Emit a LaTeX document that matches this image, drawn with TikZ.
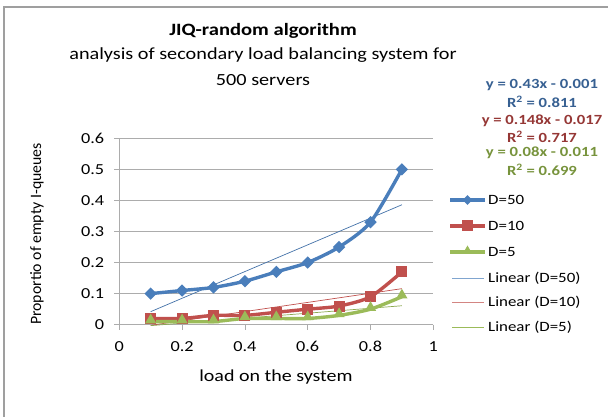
\documentclass[tikz,border=0pt]{standalone}
\usepackage{fontspec}
\setmainfont{Carlito}[FakeStretch=1.19]
\newfontfamily\uprightlbl{Carlito}
\usetikzlibrary{shapes.geometric}
\definecolor{serblue}{RGB}{74,126,187}
\definecolor{serred}{RGB}{192,80,77}
\definecolor{sergreen}{RGB}{155,187,89}
\definecolor{eqblue}{RGB}{55,96,146}
\definecolor{eqred}{RGB}{149,55,53}
\definecolor{eqgreen}{RGB}{119,147,60}
\tikzset{gridln/.style={draw=gray!65, line width=0.8pt}}
\tikzset{serline/.style={line width=3.4pt, smooth, tension=0.45, line join=round}}
\tikzset{trend/.style={line width=0.7pt}}
\tikzset{mkdia/.style={diamond, fill=serblue, inner sep=0pt, minimum size=12.5pt}}
\tikzset{mksq/.style={rectangle, fill=serred, inner sep=0pt, minimum size=11pt}}
\tikzset{mktri/.style={regular polygon, regular polygon sides=3, fill=sergreen, inner sep=0pt, minimum size=13pt}}
\tikzset{lbl/.style={font=\fontsize{15.3}{17}\selectfont, inner sep=1pt}}
\tikzset{leg/.style={font=\fontsize{14.2}{16}\selectfont, inner sep=1pt, anchor=west}}
\tikzset{eqn/.style={font=\bfseries\fontsize{14}{15}\selectfont, inner sep=0pt}}

\begin{document}
\begin{tikzpicture}[x=1pt,y=1pt]
\useasboundingbox (0,0) rectangle (608,417);
% frame of the chart
\begin{scope}
\clip (0,0) rectangle (608,417);
\draw[gray!75, line width=2pt] (4,-10) -- (4,409.5) -- (620,409.5);
\end{scope}

% titles
\node[font=\bfseries\fontsize{17.3}{20}\selectfont] (ttl) at (263,386) {JIQ-random algorithm};
\node[font=\fontsize{17}{20}\selectfont] (sub1) at (263,362) {analysis of secondary load balancing system for};
\node[font=\fontsize{17}{20}\selectfont] (sub2) at (263,337) {500 servers};

% plot area
\begin{scope}[shift={(119.3,92.3)}, x=314pt, y=310.7pt]
\foreach \v in {0.1,0.2,0.3,0.4,0.5,0.6}
  \draw[gridln] (0,\v) -- (1,\v);
\draw[gridln] (0,0) -- (0,0.6);
\draw[gridln] (0,0) -- (1,0);
\foreach \v in {0,0.1,0.2,0.3,0.4,0.5,0.6} {
  \draw[gridln] (0,\v) -- ++(-5pt,0);
  \node[lbl, anchor=east] (yt\v) at ([xshift=-14pt]0,\v) {\v};
}
\foreach \v in {0,0.2,0.4,0.6,0.8,1} {
  \draw[gridln] (\v,0) -- ++(0,-5pt);
  \node[lbl] (xt\v) at ([yshift=-22pt]\v,0) {\v};
}

% trend lines
\draw[trend, serblue!90!black] (0.1,0.042) -- (0.9,0.386);
\draw[trend, serred] (0.1,-0.002) -- (0.9,0.116);
\draw[trend, sergreen!90!black] (0.1,-0.003) -- (0.9,0.061);

% series
\draw[serline, serblue] plot coordinates {(0.1,0.10) (0.2,0.11) (0.3,0.12) (0.4,0.14) (0.5,0.17) (0.6,0.20) (0.7,0.25) (0.8,0.33) (0.9,0.50)};
\draw[serline, serred] plot coordinates {(0.1,0.02) (0.2,0.02) (0.3,0.03) (0.4,0.03) (0.5,0.04) (0.6,0.05) (0.7,0.06) (0.8,0.09) (0.9,0.17)};
\draw[serline, sergreen] plot coordinates {(0.1,0.01) (0.2,0.01) (0.3,0.01) (0.4,0.02) (0.5,0.02) (0.6,0.02) (0.7,0.03) (0.8,0.05) (0.9,0.09)};
\foreach \x/\y [count=\i] in {0.1/0.10,0.2/0.11,0.3/0.12,0.4/0.14,0.5/0.17,0.6/0.20,0.7/0.25,0.8/0.33,0.9/0.50}
  \node[mkdia] (a\i) at (\x,\y) {};
\foreach \x/\y [count=\i] in {0.1/0.02,0.2/0.02,0.3/0.03,0.4/0.03,0.5/0.04,0.6/0.05,0.7/0.06,0.8/0.09,0.9/0.17}
  \node[mksq] (b\i) at (\x,\y) {};
\foreach \x/\y [count=\i] in {0.1/0.01,0.2/0.01,0.3/0.01,0.4/0.02,0.5/0.02,0.6/0.02,0.7/0.03,0.8/0.05,0.9/0.09}
  \node[mktri] (c\i) at ([yshift=1.5pt]\x,\y) {};
\end{scope}

% axis titles
\node[font=\uprightlbl\fontsize{15.8}{17}\selectfont, rotate=90] (ylab) at (37,183) {Proportio of empty I-queues};
\node[font=\fontsize{16.8}{18}\selectfont] (xlab) at (276,40) {load on the system};

% trend line equations
\node[eqn, text=eqblue] (eq1) at (542,332) {y = 0.43x - 0.001};
\node[eqn, text=eqblue] (r1) at (542,315) {R\textsuperscript{2} = 0.811};
\node[eqn, text=eqred] (eq2) at (542,296) {y = 0.148x - 0.017};
\node[eqn, text=eqred] (r2) at (542,280) {R\textsuperscript{2} = 0.717};
\node[eqn, text=eqgreen] (eq3) at (542,264) {y = 0.08x - 0.011};
\node[eqn, text=eqgreen] (r3) at (542,247) {R\textsuperscript{2} = 0.699};

% legend
\draw[serblue, line width=3.4pt] (450,217) -- (485,217);
\node[mkdia, minimum size=10pt] (ka) at (467.5,217) {};
\node[leg] (ta) at (487,217) {D=50};
\draw[serred, line width=3.4pt] (450,191) -- (485,191);
\node[mksq] (kb) at (467.5,191) {};
\node[leg] (tb) at (487,191) {D=10};
\draw[sergreen, line width=3.4pt] (450,165) -- (485,165);
\node[mktri, minimum size=11pt] (kc) at (467.5,166) {};
\node[leg] (tc) at (487,165) {D=5};
\draw[trend, serblue!70] (452,139) -- (484,139);
\node[leg] (td) at (487,139) {Linear (D=50)};
\draw[trend, serred!70] (452,115) -- (484,115);
\node[leg] (te) at (487,115) {Linear (D=10)};
\draw[trend, sergreen] (452,90) -- (484,90);
\node[leg] (tf) at (487,90) {Linear (D=5)};
\end{tikzpicture}
\end{document}
